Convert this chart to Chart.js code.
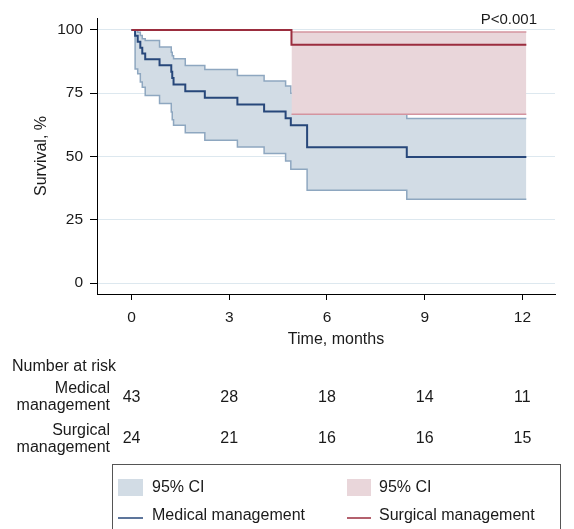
<!DOCTYPE html>
<html lang="en">
<head>
<meta charset="UTF-8">
<title>Survival</title>
<style>
  body { margin: 0; background: #fff; }
  .chart-container { position: relative; width: 574px; height: 529px; }
</style>
</head>
<body>
<div class="chart-container">
  <canvas id="survival"></canvas>
</div>
<script src="https://cdn.jsdelivr.net/npm/chart.js"></script>
<script>
// Kaplan-Meier steps (months, %)
const medTime  = [0, 0.11, 0.19, 0.27, 0.33, 0.42, 0.86, 1.22, 1.25, 1.29, 1.65, 2.25, 3.25, 4.07, 4.73, 4.89, 5.39, 8.45, 12.12];
const medSurv  = [100, 97.7, 95.3, 93.0, 90.7, 88.4, 86.0, 83.5, 81.0, 78.4, 75.8, 73.2, 70.5, 67.8, 65.1, 62.3, 53.7, 49.8, 49.8];
const medLower = [100, 84.6, 82.7, 79.4, 77.4, 74.1, 70.9, 67.6, 64.5, 62.3, 59.4, 56.4, 53.8, 51.2, 48.2, 45.0, 36.7, 33.1, 33.1];
const medUpper = [100, 100, 99.1, 97.8, 96.5, 95.8, 93.2, 91.2, 89.8, 88.6, 85.9, 84.4, 82.0, 79.8, 77.8, 75.0, 67.5, 65.0, 65.0];

const surgTime  = [0, 4.91, 12.12];
const surgSurv  = [100, 94.1, 94.1];
// CI only exists after the first surgical event
const surgCiTime = [4.91, 12.12];
const surgLower  = [66.7, 66.7];
const surgUpper  = [99.2, 99.2];

const xTicks = [0, 3, 6, 9, 12];
const yTicks = [0, 25, 50, 75, 100];

// number at risk
const riskMonths = [0, 3, 6, 9, 12];
const medRisk  = [43, 28, 18, 14, 11];
const surgRisk = [24, 21, 16, 16, 15];

const MED_LINE = '#27477a';
const MED_EDGE = '#8ea7c0';
const MED_FILL = '#d2dce5';
const SURG_LINE = '#9b2d3e';
const SURG_EDGE = '#d4949f';
const SURG_FILL = '#e9d6da';
const FONT = "'Liberation Sans', Arial, sans-serif";
const TEXT = '#1a1a1a';

const pts = (xs, ys) => xs.map((x, i) => ({ x: x, y: ys[i] }));

function band(data, color, order, fill, bg) {
  return {
    data: data,
    stepped: true,
    borderColor: color,
    borderWidth: 1.5,
    pointRadius: 0,
    fill: fill,
    backgroundColor: bg || 'rgba(0,0,0,0)',
    order: order
  };
}

// extra texts: x title, p value, risk table, legend box
const extras = {
  id: 'extras',
  afterDraw(chart) {
    const ctx = chart.ctx;
    const xs = chart.scales.x;
    ctx.save();
    ctx.fillStyle = TEXT;
    ctx.font = '16px ' + FONT;
    ctx.textBaseline = 'middle';
    ctx.textAlign = 'center';
    ctx.fillText('Time, months', 336, 340);

    ctx.font = '15px ' + FONT;
    ctx.textAlign = 'right';
    ctx.fillText('P<0.001', 537, 20);

    ctx.font = '16px ' + FONT;
    ctx.textBaseline = 'alphabetic';
    ctx.textAlign = 'left';
    ctx.fillText('Number at risk', 12, 371);

    ctx.textAlign = 'right';
    ctx.fillText('Medical', 110, 393);
    ctx.fillText('management', 110, 410);
    ctx.fillText('Surgical', 110, 434.5);
    ctx.fillText('management', 110, 451.5);

    ctx.textAlign = 'center';
    riskMonths.forEach((m, i) => {
      const px = xs.getPixelForValue(m);
      ctx.fillText(String(medRisk[i]), px, 402);
      ctx.fillText(String(surgRisk[i]), px, 443);
    });

    // legend
    ctx.strokeStyle = '#555';
    ctx.lineWidth = 1;
    ctx.strokeRect(112.5, 464.5, 448, 80);

    ctx.fillStyle = MED_FILL;
    ctx.fillRect(118, 479, 25, 17);
    ctx.fillStyle = SURG_FILL;
    ctx.fillRect(347, 479, 24, 17);

    ctx.lineWidth = 1.5;
    ctx.strokeStyle = MED_LINE;
    ctx.beginPath(); ctx.moveTo(118, 518); ctx.lineTo(143, 518); ctx.stroke();
    ctx.strokeStyle = SURG_LINE;
    ctx.beginPath(); ctx.moveTo(347, 518); ctx.lineTo(371, 518); ctx.stroke();

    ctx.fillStyle = TEXT;
    ctx.textAlign = 'left';
    ctx.textBaseline = 'middle';
    ctx.fillText('95% CI', 152, 488);
    ctx.fillText('95% CI', 379, 488);
    ctx.fillText('Medical management', 152, 516);
    ctx.fillText('Surgical management', 379, 516);
    ctx.restore();
  }
};

Chart.defaults.font.family = FONT;
Chart.defaults.color = TEXT;

const config = {
  type: 'line',
  data: {
    datasets: [
      band(pts(medTime, medLower), MED_EDGE, 4, false),
      band(pts(medTime, medUpper), MED_EDGE, 5, { target: 0 }, MED_FILL),
      band(pts(surgCiTime, surgLower), SURG_EDGE, 2, false),
      band(pts(surgCiTime, surgUpper), SURG_EDGE, 3, { target: 2 }, SURG_FILL),
      {
        label: 'Medical management',
        data: pts(medTime, medSurv),
        stepped: true, borderColor: MED_LINE, borderWidth: 2, pointRadius: 0, fill: false, order: 1
      },
      {
        label: 'Surgical management',
        data: pts(surgTime, surgSurv),
        stepped: true, borderColor: SURG_LINE, borderWidth: 2, pointRadius: 0, fill: false, order: 0
      }
    ]
  },
  options: {
    responsive: true,
    maintainAspectRatio: false,
    animation: false,
    layout: { padding: { top: 18, right: 19, left: 0, bottom: 175 } },
    plugins: { legend: { display: false }, tooltip: { enabled: false } },
    scales: {
      x: {
        type: 'linear',
        min: -1.06,
        max: 13,
        afterBuildTicks: s => { s.ticks = xTicks.map(v => ({ value: v })); },
        afterFit: s => { s.height = 60; },
        grid: { color: 'rgba(0,0,0,0)', tickColor: '#000', tickLength: 6, drawOnChartArea: false },
        border: { color: '#000', width: 1 },
        ticks: { font: { size: 15.5 }, padding: 8, maxRotation: 0 }
      },
      y: {
        min: -4.3,
        max: 104.7,
        afterBuildTicks: s => { s.ticks = yTicks.map(v => ({ value: v })); },
        afterFit: s => { s.width = 97; },
        grid: { color: '#dde8ef', tickColor: '#000', tickLength: 7 },
        border: { color: '#000', width: 1 },
        ticks: { font: { size: 15.5 }, padding: 7 },
        title: { display: true, text: 'Survival, %', font: { size: 16 }, padding: { top: 32 } }
      }
    }
  },
  plugins: [extras]
};

new Chart(document.getElementById('survival'), config);
</script>
</body>
</html>
